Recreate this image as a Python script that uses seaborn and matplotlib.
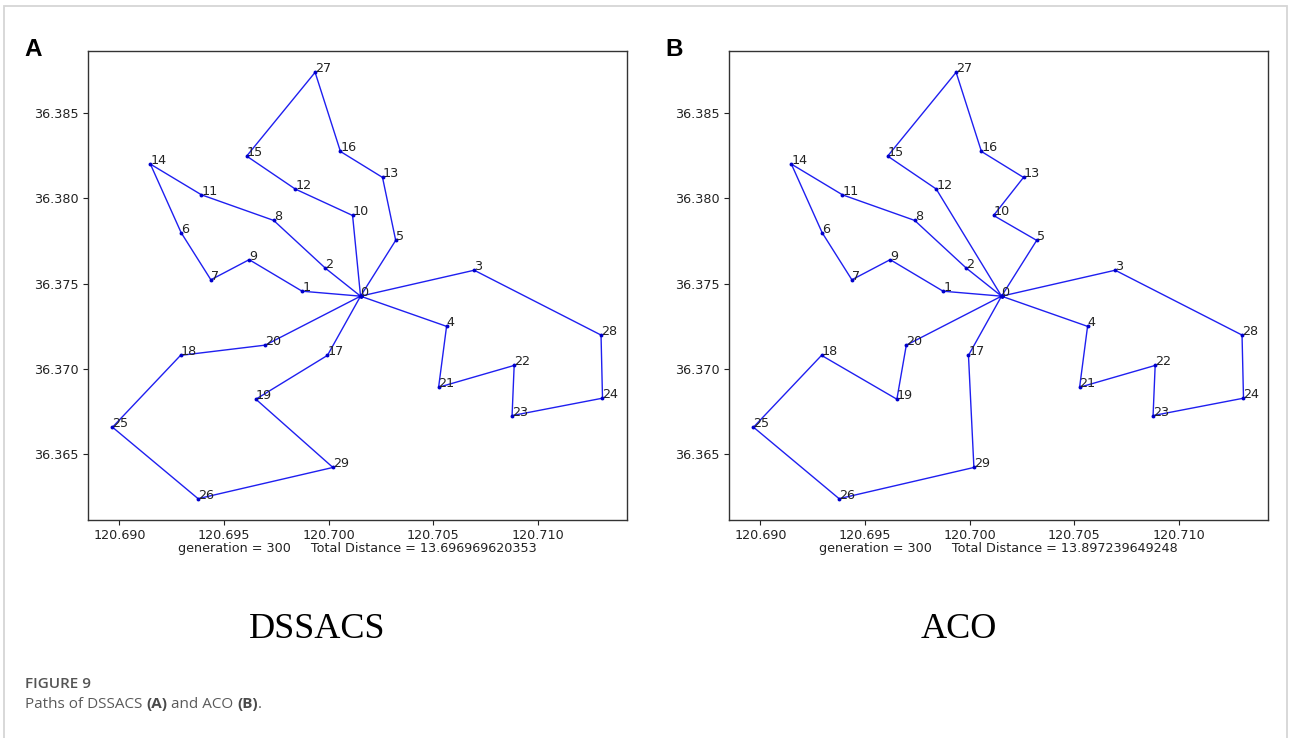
import numpy as np
import pandas as pd
import matplotlib
matplotlib.use("Agg")
import matplotlib.pyplot as plt
import seaborn as sns
from matplotlib.patches import Rectangle

# ---------------- data ----------------
lon = [120.70152, 120.69873, 120.69984, 120.70695, 120.70563, 120.70320, 120.69295,
       120.69437, 120.69737, 120.69620, 120.70114, 120.69392, 120.69840, 120.70257,
       120.69148, 120.69608, 120.70056, 120.69994, 120.69292, 120.69652, 120.69697,
       120.70525, 120.70886, 120.70876, 120.71308, 120.68967, 120.69376, 120.69935,
       120.71301, 120.70020]
lat = [36.37426, 36.37455, 36.37590, 36.37578, 36.37249, 36.37753, 36.37798,
       36.37522, 36.37870, 36.37640, 36.37899, 36.38020, 36.38054, 36.38122,
       36.38200, 36.38247, 36.38274, 36.37079, 36.37079, 36.36822, 36.37139,
       36.36892, 36.37020, 36.36726, 36.36828, 36.36658, 36.36239, 36.38738,
       36.37198, 36.36422]

route_dssacs = [0, 1, 9, 7, 6, 14, 11, 8, 2, 0, 10, 12, 15, 27, 16, 13, 5, 0,
                3, 28, 24, 23, 22, 21, 4, 0, 20, 18, 25, 26, 29, 19, 17, 0]
route_aco = [0, 1, 9, 7, 6, 14, 11, 8, 2, 0, 12, 15, 27, 16, 13, 10, 5, 0,
             3, 28, 24, 23, 22, 21, 4, 0, 20, 19, 18, 25, 26, 29, 17, 0]

generations = [300, 300]
distances = ["13.696969620353", "13.897239649248"]
panel_letters = ["A", "B"]
method_names = ["DSSACS", "ACO"]
routes = [route_dssacs, route_aco]

# ---------------- figure ----------------
sns.set_style("ticks")
plt.rcParams["font.family"] = ["DejaVu Sans"]

W, H = 1290, 738
fig = plt.figure(figsize=(W / 100, H / 100), dpi=100)

def fx(px):
    return px / W

def fy(py):
    return 1 - py / H

# outer light border
fig.patches.append(Rectangle((fx(4), fy(760)), fx(1283), 754 / H,
                             transform=fig.transFigure, fill=False,
                             edgecolor="#d6d6d6", linewidth=1.3))

axes_px = [(88, 627), (729, 1268)]
top_px, bot_px = 51, 520
fs = 9.2

for k in range(2):
    l, r = axes_px[k]
    ax = fig.add_axes([fx(l), fy(bot_px), (r - l) / W, (bot_px - top_px) / H])
    order = routes[k]
    df = pd.DataFrame({
        "step": np.arange(len(order)),
        "lon": [lon[i] for i in order],
        "lat": [lat[i] for i in order],
    })
    sns.lineplot(data=df, x="lon", y="lat", sort=False, estimator=None,
                 color="#1f1ff0", linewidth=1.0, marker="o", markersize=2.8,
                 markeredgewidth=0, markerfacecolor="#0000cc", ax=ax)
    for i in range(len(lon)):
        ax.text(lon[i], lat[i], str(i), fontsize=fs, color="#222222",
                ha="left", va="baseline")
    ax.margins(0.05)
    ax.set_xticks([120.690, 120.695, 120.700, 120.705, 120.710])
    ax.set_yticks([36.365, 36.370, 36.375, 36.380, 36.385])
    ax.xaxis.set_major_formatter(matplotlib.ticker.FormatStrFormatter("%.3f"))
    ax.yaxis.set_major_formatter(matplotlib.ticker.FormatStrFormatter("%.3f"))
    ax.tick_params(labelsize=fs, colors="#222222", length=3.5, width=0.8, pad=3)
    ax.set_xlabel("generation = %d     Total Distance = %s" % (generations[k], distances[k]),
                  fontsize=fs, color="#222222", labelpad=0)
    ax.set_ylabel("")
    for s in ax.spines.values():
        s.set_color("#333333")
        s.set_linewidth(1.0)
    # panel letter
    fig.text(fx(l - 64), fy(49), panel_letters[k], fontsize=17.5, fontweight="bold",
             family="Liberation Sans", ha="left", va="center", color="black")
    # method name below
    fig.text(fx((l + r) / 2 - 40), fy(630), method_names[k], fontsize=26,
             family="Liberation Serif", ha="center", va="center", color="black")

# caption
fig.text(fx(25), fy(684), "FIGURE 9", fontsize=11, family="Open Sans",
         fontweight="semibold", color="#555555", ha="left", va="center")

pieces = [("Paths of DSSACS ", "normal"), ("(A)", "bold"), (" and ACO ", "normal"),
          ("(B)", "bold"), (".", "normal")]
renderer = fig.canvas.get_renderer()
xpos = fx(25)
for txt, wt in pieces:
    t = fig.text(xpos, fy(704), txt, fontsize=11, family="Open Sans", fontweight=wt,
                 color="#5a5a5a" if wt == "normal" else "#4a4a4a", ha="left", va="center")
    bb = t.get_window_extent(renderer=renderer)
    xpos += bb.width / W

fig.savefig("out.png", dpi=100)
